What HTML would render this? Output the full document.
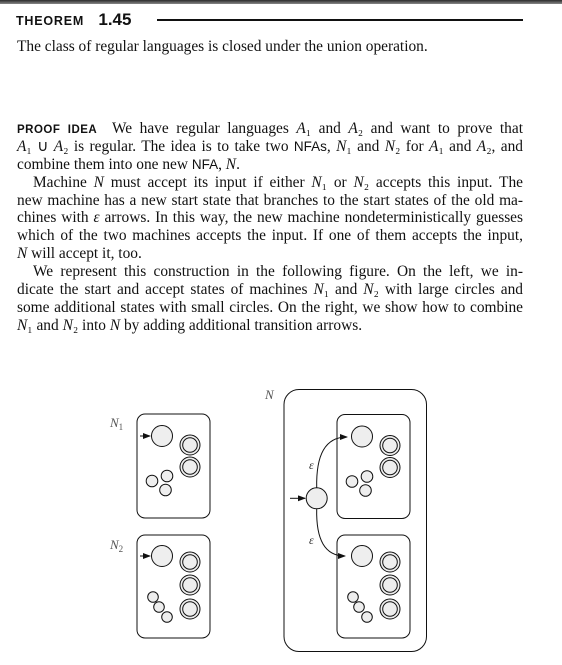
<!DOCTYPE html>
<html><head><meta charset="utf-8"><style>
body{margin:0;width:562px;height:665px;background:#fff;position:relative;overflow:hidden;font-family:"Liberation Serif",serif;color:#111}
.l{position:absolute;left:17px;width:506px;font-size:15.4px;line-height:18px;white-space:nowrap;text-align:justify;text-align-last:justify}
.l.in{left:33px;width:490px}
.l.nj{text-align-last:left}
.sans{font-family:"Liberation Sans",sans-serif;font-weight:bold;letter-spacing:0.5px}
i{font-style:italic}
</style></head><body>
<div style="position:absolute;left:0;top:0;width:562px;height:4px;background:linear-gradient(#2c2c2c,#888)"></div>
<div style="position:absolute;left:16px;top:10px;font-family:'Liberation Sans',sans-serif;font-weight:bold;font-size:12.5px;letter-spacing:0.8px">THEOREM <span style="font-size:17px;margin-left:10px;letter-spacing:0">1.45</span></div>
<div style="position:absolute;left:157px;top:18.5px;width:366px;height:2.5px;background:#111"></div>
<div class="l nj" style="top:38px">The class of regular languages is closed under the union operation.</div>
<div>
<div class="l" style="top:120px"><span class="sans" style="font-size:11.5px">PROOF IDEA</span>&nbsp; We have regular languages <i>A</i>₁ and <i>A</i>₂ and want to prove that</div>
<div class="l" style="top:138px"><i>A</i>₁ ∪ <i>A</i>₂ is regular. The idea is to take two <span style="font-family:'Liberation Sans';font-size:13.5px">NFAs</span>, <i>N</i>₁ and <i>N</i>₂ for <i>A</i>₁ and <i>A</i>₂, and</div>
<div class="l nj" style="top:156px">combine them into one new <span style="font-family:'Liberation Sans';font-size:13.5px">NFA</span>, <i>N</i>.</div>
<div class="l in" style="top:174px">Machine <i>N</i> must accept its input if either <i>N</i>₁ or <i>N</i>₂ accepts this input. The</div>
<div class="l" style="top:192px">new machine has a new start state that branches to the start states of the old ma-</div>
<div class="l" style="top:209px">chines with <i>ε</i> arrows. In this way, the new machine nondeterministically guesses</div>
<div class="l" style="top:227px">which of the two machines accepts the input. If one of them accepts the input,</div>
<div class="l nj" style="top:245px"><i>N</i> will accept it, too.</div>
<div class="l in" style="top:263px">We represent this construction in the following figure. On the left, we in-</div>
<div class="l" style="top:281px">dicate the start and accept states of machines <i>N</i>₁ and <i>N</i>₂ with large circles and</div>
<div class="l" style="top:299px">some additional states with small circles. On the right, we show how to combine</div>
<div class="l nj" style="top:317px"><i>N</i>₁ and <i>N</i>₂ into <i>N</i> by adding additional transition arrows.</div>
</div>
<svg width="562" height="665" style="position:absolute;left:0;top:0" font-family="Liberation Serif" font-style="italic">
<defs><marker id="ar" markerWidth="8" markerHeight="6" refX="7" refY="3" orient="auto"><path d="M0,0L8,3L0,6z" fill="#111"/></marker>
<g id="m1" fill="#eee" stroke="#111" stroke-width="1">
<rect x="0" y="0" width="73" height="104" rx="8" fill="#fff"/>
<circle cx="25" cy="22" r="10.5"/>
<circle cx="53" cy="31" r="10"/><circle cx="53" cy="31" r="7.3"/>
<circle cx="53" cy="53" r="10"/><circle cx="53" cy="53" r="7.3"/>
<circle cx="15" cy="67" r="5.8"/><circle cx="30" cy="62" r="5.8"/><circle cx="28.5" cy="76" r="5.8"/>
</g>
<g id="m2" fill="#eee" stroke="#111" stroke-width="1">
<rect x="0" y="0" width="73" height="103" rx="8" fill="#fff"/>
<circle cx="25" cy="21" r="10.5"/>
<circle cx="53" cy="27" r="10"/><circle cx="53" cy="27" r="7.3"/>
<circle cx="53" cy="50" r="10"/><circle cx="53" cy="50" r="7.3"/>
<circle cx="53" cy="74" r="10"/><circle cx="53" cy="74" r="7.3"/>
<circle cx="16" cy="62" r="5.3"/><circle cx="22" cy="72" r="5.3"/><circle cx="30" cy="82" r="5.3"/>
</g></defs>
<text x="110" y="427" font-size="13" fill="#555">N<tspan font-style="normal" font-size="9" dy="3">1</tspan></text>
<use href="#m1" x="137" y="414"/>
<line x1="140" y1="436" x2="150" y2="436" stroke="#111" marker-end="url(#ar)"/>
<text x="110" y="549" font-size="13" fill="#555">N<tspan font-style="normal" font-size="9" dy="3">2</tspan></text>
<use href="#m2" x="137" y="535"/>
<line x1="140" y1="556" x2="150" y2="556" stroke="#111" marker-end="url(#ar)"/>
<text x="265" y="399" font-size="13" fill="#555">N</text>
<rect x="284" y="389.5" width="142.5" height="262" rx="15" fill="none" stroke="#111"/>
<use href="#m1" x="337" y="414.5"/>
<use href="#m2" x="337" y="535"/>
<circle cx="316.7" cy="498.3" r="10.5" fill="#eee" stroke="#111"/>
<line x1="290" y1="498.3" x2="305" y2="498.3" stroke="#111" marker-end="url(#ar)"/>
<path d="M316.7,487.8 C316,455 325,437 347,437" fill="none" stroke="#111" marker-end="url(#ar)"/>
<path d="M316.7,508.8 C316,540 325,556 345,556" fill="none" stroke="#111" marker-end="url(#ar)"/>
<text x="309" y="469" font-size="12" fill="#333">ε</text>
<text x="309" y="544" font-size="12" fill="#333">ε</text>
</svg>
</body></html>
